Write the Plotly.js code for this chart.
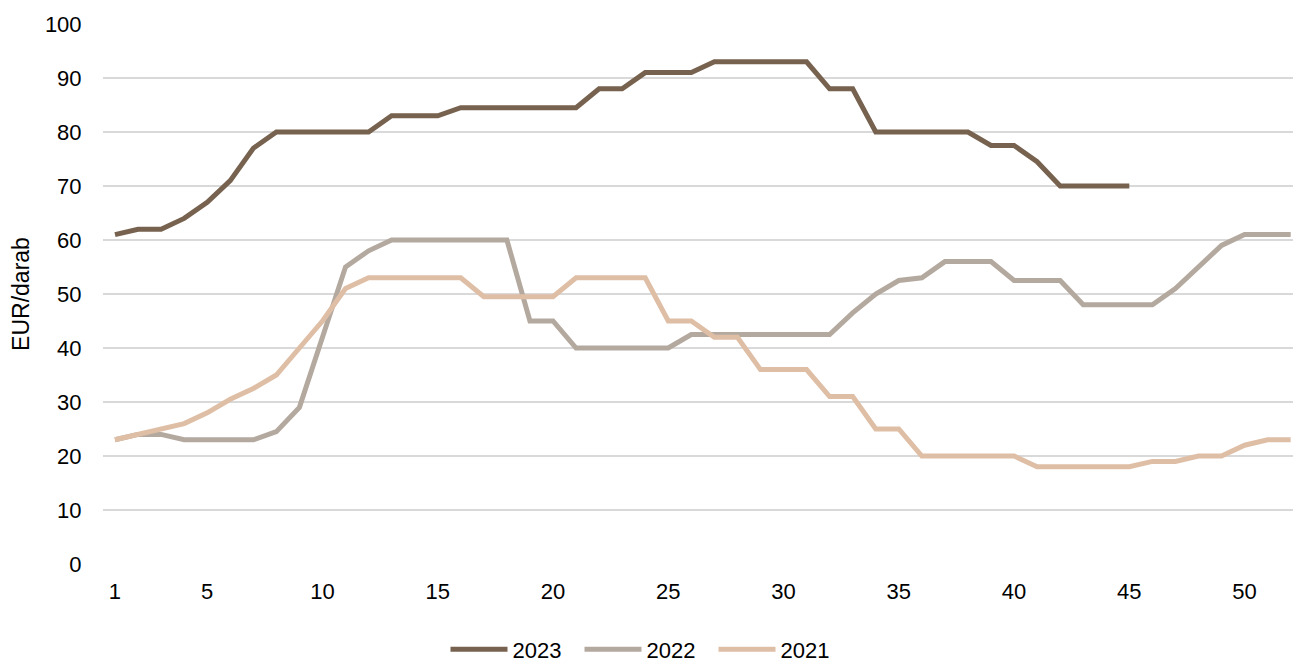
<!DOCTYPE html>
<html>
<head>
<meta charset="utf-8">
<script src="https://cdn.plot.ly/plotly-3.0.1.min.js"></script>
<style>
  html, body { margin: 0; padding: 0; background: #fff; }
  #chart { width: 1293px; height: 664px; }
</style>
</head>
<body>
<div id="chart"></div>
<script>
// Weeks
const weeks2023 = [1,2,3,4,5,6,7,8,9,10,11,12,13,14,15,16,17,18,19,20,21,22,23,24,25,26,27,28,29,30,31,32,33,34,35,36,37,38,39,40,41,42,43,44,45];
const weeksFull = [1,2,3,4,5,6,7,8,9,10,11,12,13,14,15,16,17,18,19,20,21,22,23,24,25,26,27,28,29,30,31,32,33,34,35,36,37,38,39,40,41,42,43,44,45,46,47,48,49,50,51,52];

// EUR/darab values
const values2023 = [61,62,62,64,67,71,77,80,80,80,80,80,83,83,83,84.5,84.5,84.5,84.5,84.5,84.5,88,88,91,91,91,93,93,93,93,93,88,88,80,80,80,80,80,77.5,77.5,74.5,70,70,70,70];
const values2022 = [23,24,24,23,23,23,23,24.5,29,42,55,58,60,60,60,60,60,60,45,45,40,40,40,40,40,42.5,42.5,42.5,42.5,42.5,42.5,42.5,46.5,50,52.5,53,56,56,56,52.5,52.5,52.5,48,48,48,48,51,55,59,61,61,61];
const values2021 = [23,24,25,26,28,30.5,32.5,35,40,45,51,53,53,53,53,53,49.5,49.5,49.5,49.5,53,53,53,53,45,45,42,42,36,36,36,31,31,25,25,20,20,20,20,20,18,18,18,18,18,19,19,20,20,22,23,23];

const seriesNames = ['2023','2022','2021'];
const xTickVals = [1,5,10,15,20,25,30,35,40,45,50];
const xTickText = ['1','5','10','15','20','25','30','35','40','45','50'];
const yTickVals = [0,10,20,30,40,50,60,70,80,90,100];

const colors = ['#76624F', '#B4A99F', '#DFBEA6'];

const traces = [
  {x: weeks2023, y: values2023, name: seriesNames[0]},
  {x: weeksFull, y: values2022, name: seriesNames[1]},
  {x: weeksFull, y: values2021, name: seriesNames[2]}
].map((t, i) => Object.assign(t, {
  type: 'scatter',
  mode: 'lines',
  line: {color: colors[i], width: 5, shape: 'linear'},
  hoverinfo: 'x+y+name'
}));

const font = {family: 'Liberation Sans, Arial, sans-serif', color: '#000'};

const layout = {
  width: 1293,
  height: 664,
  margin: {l: 103, r: 0, t: 24, b: 100, autoexpand: false},
  paper_bgcolor: '#fff',
  plot_bgcolor: '#fff',
  font: Object.assign({size: 21}, font),
  showlegend: true,
  legend: {
    orientation: 'h',
    xref: 'container',
    x: 0.5, xanchor: 'center',
    yref: 'container',
    y: 0.022, yanchor: 'middle',
    font: Object.assign({size: 22}, font),
    itemwidth: 57,
    entrywidth: 62,
    entrywidthmode: 'pixels',
    traceorder: 'normal'
  },
  xaxis: {
    range: [0.48, 52.1],
    tickmode: 'array',
    tickvals: xTickVals,
    ticktext: xTickText,
    showgrid: false,
    zeroline: false,
    showline: false,
    ticks: 'outside',
    ticklen: 8,
    tickcolor: 'rgba(0,0,0,0)',
    tickfont: Object.assign({size: 22}, font),
    automargin: false,
    fixedrange: true
  },
  yaxis: {
    range: [0, 100],
    tickmode: 'array',
    tickvals: yTickVals,
    showgrid: true,
    gridcolor: '#D9D9D9',
    gridwidth: 1.3,
    zeroline: false,
    showline: false,
    ticks: 'outside',
    ticklen: 16,
    tickcolor: 'rgba(0,0,0,0)',
    tickfont: Object.assign({size: 22}, font),
    title: {text: 'EUR/darab', font: Object.assign({size: 23}, font), standoff: 8},
    automargin: false,
    fixedrange: true
  }
};

Plotly.newPlot('chart', traces, layout, {displayModeBar: false, staticPlot: true});
</script>
</body>
</html>
